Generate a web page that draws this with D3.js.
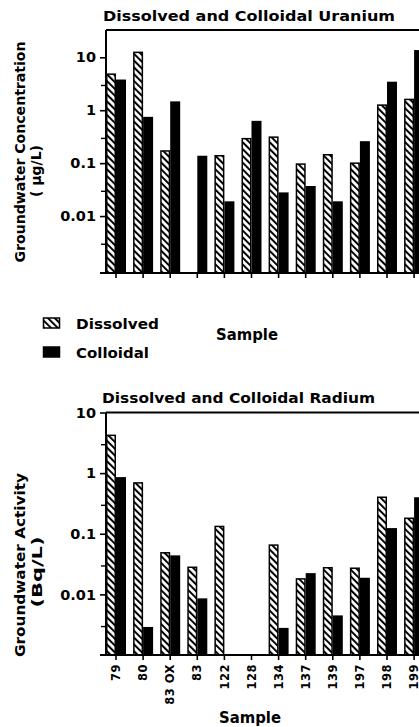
<!DOCTYPE html>
<html>
<head>
<meta charset="utf-8">
<script src="https://cdn.jsdelivr.net/npm/d3@7"></script>
<style>
  html, body { margin: 0; padding: 0; background: #fff; }
  svg { display: block; }
  text { font-family: "DejaVu Sans", "Liberation Sans", sans-serif; font-weight: bold; fill: #000; }
</style>
</head>
<body>
<svg id="chart" width="419" height="727"></svg>
<script>
// Sample identifiers along the x axis
const samples = ["79", "80", "83 OX", "83", "122", "128", "134", "137", "139", "197", "198", "199"];

// Uranium concentration, µg/L (null = not measured)
const uraniumDissolved = [4.8, 12.4, 0.17, null, 0.138, 0.29, 0.31, 0.096, 0.144, 0.1, 1.25, 1.6];
const uraniumColloidal = [3.8, 0.75, 1.47, 0.138, 0.019, 0.63, 0.028, 0.037, 0.019, 0.26, 3.46, 13.7];

// Radium activity, Bq/L (null = not measured)
const radiumDissolved = [4.2, 0.69, 0.0485, 0.028, 0.132, null, 0.065, 0.018, 0.0275, 0.027, 0.40, 0.18];
const radiumColloidal = [0.86, 0.0029, 0.044, 0.0086, null, null, 0.0028, 0.0224, 0.0045, 0.0188, 0.124, 0.40];

// Axis ticks
const uraniumTicks = [10, 1, 0.1, 0.01];
const uraniumTickLabels = ["10", "1", "0.1", "0.01"];
const radiumTicks = [10, 1, 0.1, 0.01];
const radiumTickLabels = ["10", "1", "0.1", "0.01"];
const minorTicks = [3, 0.3, 0.03, 0.003];

const fractions = ["Dissolved", "Colloidal"];

const svg = d3.select("#chart");

// Diagonal hatching for the dissolved fraction
const defs = svg.append("defs");
const pat = defs.append("pattern")
  .attr("id", "hatch")
  .attr("patternUnits", "userSpaceOnUse")
  .attr("width", 4.8)
  .attr("height", 4.8)
  .attr("patternTransform", "rotate(-45)");
pat.append("rect").attr("width", 4.8).attr("height", 4.8).attr("fill", "#fff");
pat.append("rect").attr("x", 0).attr("y", 0).attr("width", 2.0).attr("height", 4.8).attr("fill", "#000");

const x = d3.scaleBand()
  .domain(samples)
  .range([106, 106 + 12 * 27.1 - 7.1])
  .paddingInner(0.262)
  .paddingOuter(0);

const xSub = d3.scaleBand()
  .domain(fractions)
  .range([0, x.bandwidth()]);

function panel(opts) {
  const g = svg.append("g");
  const y = d3.scaleLog().domain(opts.domain).range([opts.bottom, opts.top]);

  // bars
  const rows = samples.map((s, i) => ({ s, vals: [opts.dissolved[i], opts.colloidal[i]] }));
  const grp = g.selectAll("g.grp").data(rows).join("g")
    .attr("class", "grp")
    .attr("transform", d => `translate(${x(d.s)},0)`);
  grp.selectAll("rect")
    .data(d => fractions.map((f, k) => ({ f, v: d.vals[k] })).filter(e => e.v != null))
    .join("rect")
    .attr("x", d => xSub(d.f) + (d.f === "Dissolved" ? 0.75 : 0))
    .attr("width", d => xSub.bandwidth() - (d.f === "Dissolved" ? 1.5 : 0))
    .attr("y", d => y(d.v))
    .attr("height", d => opts.bottom - y(d.v))
    .attr("fill", d => d.f === "Dissolved" ? "url(#hatch)" : "#000")
    .attr("stroke", d => d.f === "Dissolved" ? "#000" : "none")
    .attr("stroke-width", 1.5);

  // frame: top rule and left axis
  g.append("line")
    .attr("x1", 106).attr("x2", 425)
    .attr("y1", opts.top).attr("y2", opts.top)
    .attr("stroke", "#000").attr("stroke-width", 2);

  const yAxis = d3.axisLeft(y)
    .tickValues(opts.ticks)
    .tickFormat((d, i) => opts.tickLabels[i])
    .tickSize(6)
    .tickPadding(4);
  const ya = g.append("g").attr("transform", "translate(106,0)").call(yAxis);
  ya.select(".domain").attr("stroke-width", 2).attr("d", `M0,${opts.top}V${opts.bottom}`);
  ya.selectAll(".tick line").attr("stroke-width", 1.6);
  ya.selectAll(".tick text")
    .style("font-size", "14.5px")
    .style("font-family", "'DejaVu Sans', sans-serif")
    .style("font-weight", "bold");

  const yMinor = d3.axisLeft(y).tickValues(minorTicks).tickFormat("").tickSize(5);
  const ym = g.append("g").attr("transform", "translate(106,0)").call(yMinor);
  ym.select(".domain").remove();
  ym.selectAll(".tick line").attr("stroke-width", 1.4);

  // bottom axis
  const xAxis = d3.axisBottom(x).tickSize(5).tickPadding(4);
  const xa = g.append("g").attr("transform", `translate(0,${opts.bottom})`).call(xAxis);
  xa.select(".domain").attr("stroke-width", 2).attr("d", "M100,0H425");
  xa.selectAll(".tick line").attr("stroke-width", 1.6);
  if (opts.showSampleLabels) {
    xa.selectAll(".tick text")
      .attr("transform", "rotate(-90)")
      .attr("x", -9).attr("y", 0).attr("dy", "0.36em")
      .style("text-anchor", "end")
      .style("font-size", "11.5px")
      .style("letter-spacing", "0.5px")
      .style("font-family", "'DejaVu Sans', sans-serif")
      .style("font-weight", "bold");
  } else {
    xa.selectAll(".tick text").remove();
  }

  // title
  svg.append("text")
    .attr("x", opts.titleX).attr("y", opts.titleY)
    .attr("textLength", opts.titleLen).attr("lengthAdjust", "spacingAndGlyphs")
    .style("font-size", "13.5px")
    .text(opts.title);

  // y-axis titles
  opts.yTitles.forEach(t => {
    svg.append("text")
      .attr("transform", `translate(${t.x},${t.y}) rotate(-90)`)
      .attr("text-anchor", "middle")
      .attr("textLength", t.len).attr("lengthAdjust", "spacingAndGlyphs")
      .style("font-size", t.size + "px")
      .text(t.text);
  });

  // x-axis title
  svg.append("text")
    .attr("x", opts.sampleX).attr("y", opts.sampleY)
    .attr("text-anchor", "middle")
    .attr("textLength", 62).attr("lengthAdjust", "spacingAndGlyphs")
    .style("font-size", "15px")
    .text("Sample");
}

panel({
  domain: [0.00084, 32.8], top: 30, bottom: 273,
  dissolved: uraniumDissolved, colloidal: uraniumColloidal,
  ticks: uraniumTicks, tickLabels: uraniumTickLabels,
  showSampleLabels: false,
  title: "Dissolved and Colloidal Uranium", titleX: 103, titleY: 21, titleLen: 292,
  yTitles: [
    { text: "Groundwater Concentration", x: 25, y: 152, len: 221, size: 14.5 },
    { text: "( µg/L)", x: 41, y: 171, len: 52, size: 14 }
  ],
  sampleX: 247, sampleY: 340
});

panel({
  domain: [0.001, 10], top: 412.5, bottom: 655,
  dissolved: radiumDissolved, colloidal: radiumColloidal,
  ticks: radiumTicks, tickLabels: radiumTickLabels,
  showSampleLabels: true,
  title: "Dissolved and Colloidal Radium", titleX: 102, titleY: 403, titleLen: 273,
  yTitles: [
    { text: "Groundwater Activity", x: 25, y: 565, len: 184, size: 14.5 },
    { text: "(Bq/L)", x: 42, y: 572, len: 71, size: 14 }
  ],
  sampleX: 250, sampleY: 723
});

// legend
const legend = svg.append("g");
const legendRows = [
  { label: "Dissolved", fill: "url(#hatch)", y: 318, len: 83 },
  { label: "Colloidal", fill: "#000", y: 347, len: 73 }
];
legendRows.forEach(r => {
  legend.append("rect")
    .attr("x", 43.5).attr("y", r.y).attr("width", 16).attr("height", 10)
    .attr("fill", r.fill).attr("stroke", "#000").attr("stroke-width", 1.5);
  legend.append("text")
    .attr("x", 76).attr("y", r.y + 10.5)
    .attr("textLength", r.len).attr("lengthAdjust", "spacingAndGlyphs")
    .style("font-size", "14px")
    .text(r.label);
});
</script>
</body>
</html>
